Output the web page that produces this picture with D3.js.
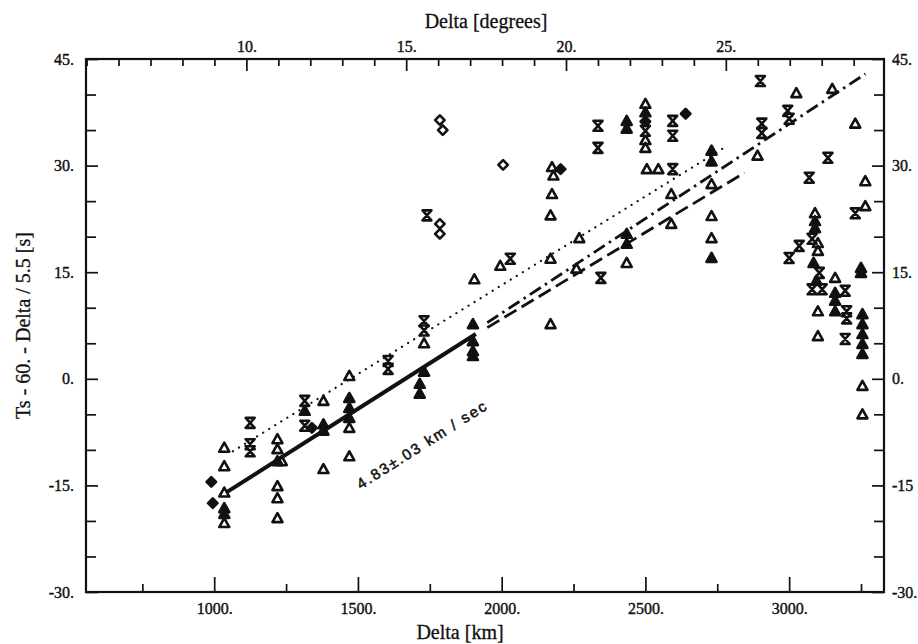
<!DOCTYPE html>
<html>
<head>
<meta charset="utf-8">
<script src="https://cdn.jsdelivr.net/npm/d3@7"></script>
<style>
    body { margin: 0; background: #fff; }
    svg text { font-family: 'Liberation Serif', 'Times New Roman', serif; fill: #111; }
</style>
</head>
<body>
<div id="chart"></div>
<script>
const KM_PER_DEGREE = 111.19

// axis ticks
const kmMajorTicks = [1000, 1500, 2000, 2500, 3000]
const kmMinorTicks = [750, 1250, 1750, 2250, 2750, 3250]
const degreeMajorTicks = [10, 15, 20, 25]
const degreeMinorTicks = [5, 6, 7, 8, 9, 11, 12, 13, 14, 16, 17, 18, 19, 21, 22, 23, 24, 26, 27, 28, 29]
const residualMajorTicks = [45, 30, 15, 0, -15, -30]
const residualMinorTicks = [40, 35, 25, 20, 10, 5, -5, -10, -20, -25]
const rightTickLabels = ['45.', '30.', '15.', '0.', '-15', '-30.']

// picks, [delta km, residual s]
const openTriangles = [
    [1035, -9.7], [1035, -12.3], [1035, -16.0], [1035, -20.3],
    [1220, -8.5], [1220, -9.9], [1235, -11.6], [1220, -15.1], [1220, -16.8], [1220, -19.6],
    [1380, -3.1], [1380, -12.7], [1470, 0.4], [1470, -6.9], [1470, -10.9],
    [1730, 5.0], [1905, 14.0], [1995, 15.9],
    [2170, 16.9], [2170, 7.7], [2170, 23.0], [2175, 26.0], [2175, 29.8], [2180, 28.6],
    [2270, 19.8], [2260, 15.5], [2435, 16.3],
    [2500, 38.7], [2500, 33.6], [2500, 32.5], [2505, 29.5], [2545, 29.5],
    [2590, 26.0], [2590, 21.8], [2730, 27.4], [2730, 22.9], [2730, 19.8],
    [2890, 31.4], [3025, 40.2], [3150, 40.8], [3230, 35.9], [3265, 27.8], [3265, 24.3],
    [3090, 23.3], [3100, 19.1], [3100, 18.0], [3160, 14.2], [3100, 9.5], [3100, 6.0],
    [3255, -1.0], [3255, -5.0],
]
const filledTriangles = [
    [1035, -18.2], [1035, -19.0], [1220, -11.6], [1315, -4.5], [1380, -6.4], [1380, -7.3],
    [1470, -2.7], [1470, -4.1], [1470, -5.5], [1715, -0.7], [1715, -2.1], [1730, 1.0],
    [1900, 7.7], [1900, 5.3], [1900, 3.9], [1900, 3.2],
    [2435, 20.4], [2435, 19.0], [2435, 36.3], [2435, 35.2], [2500, 37.5],
    [2730, 32.1], [2730, 30.6], [2730, 17.0],
    [3090, 22.2], [3090, 21.2], [3085, 16.3], [3095, 13.8], [3160, 12.1], [3160, 11.0], [3160, 9.5],
    [3250, 15.6], [3250, 14.9], [3255, 9.1], [3255, 7.7], [3255, 6.3], [3255, 4.9], [3255, 3.5],
]
const hourglasses = [
    [1125, -6.2], [1125, -9.2], [1125, -10.2], [1315, -3.1], [1315, -6.6],
    [1605, 2.5], [1605, 1.4], [1740, 23.0], [1730, 8.1], [1730, 6.8],
    [2030, 16.9], [2335, 35.6], [2335, 32.5], [2345, 14.2],
    [2500, 34.9], [2595, 36.3], [2595, 34.2], [2595, 29.5],
    [2900, 41.9], [2905, 35.9], [2905, 34.6], [2995, 37.7], [3000, 36.6],
    [3135, 31.1], [3070, 28.3], [3230, 23.3], [3080, 19.7], [3035, 18.7], [3000, 17.0],
    [3105, 14.9], [3080, 12.6], [3115, 12.6], [3195, 12.4], [3200, 9.5], [3200, 8.5], [3195, 5.6],
]
const openDiamonds = [[1785, 21.8], [1785, 20.4], [1785, 36.4], [1795, 35.0], [2005, 30.1]]
const filledDiamonds = [[990, -14.5], [995, -17.5], [1340, -6.9], [2205, 29.5], [2500, 36.2], [2640, 37.3]]

// fitted lines, end points
const fitLine = [[1030, -16.3], [1910, 6.3]]
const dashDotLine = [[1950, 7.9], [3265, 42.9]]
const dashedLine = [[1950, 7.2], [2845, 29.0]]
const dottedLine = [[1065, -10.2], [2785, 32.8]]
const fitLabel = { km: 1510, t: -15.6, text: '4.83±.03  km / sec' }

const width = 918
const height = 644
const frame = { left: 86, right: 884, top: 59, bottom: 592 }

const x = d3.scaleLinear().domain([554, 3330]).range([frame.left, frame.right])
const xDeg = d3.scaleLinear().domain([554 / KM_PER_DEGREE, 3330 / KM_PER_DEGREE]).range([frame.left, frame.right])
const y = d3.scaleLinear().domain([-30, 45]).range([frame.bottom, frame.top])

const svg = d3.select('#chart').append('svg')
    .attr('width', width)
    .attr('height', height)

function _styleAxis(g, fontSize) {
    g.attr('font-family', null).attr('font-size', null)
    g.select('.domain').remove()
    g.selectAll('line').attr('stroke', '#111').attr('stroke-width', 1.7)
    g.selectAll('text')
        .style('font-size', fontSize + 'px')
        .attr('stroke', '#111')
        .attr('stroke-width', 0.4)
}

function _addAxis(axis, transform) {
    return svg.append('g').attr('transform', transform).call(axis).call(g => _styleAxis(g, 16))
}

// bottom, km
_addAxis(d3.axisBottom(x).tickValues(kmMajorTicks).tickSize(-15).tickPadding(11).tickFormat(d => d + '.'),
    `translate(0,${frame.bottom})`)
_addAxis(d3.axisBottom(x).tickValues(kmMinorTicks).tickSize(-8).tickFormat(''), `translate(0,${frame.bottom})`)

// top, degrees
_addAxis(d3.axisTop(xDeg).tickValues(degreeMajorTicks).tickSize(-12).tickPadding(7).tickFormat(d => d + '.'),
    `translate(0,${frame.top})`)
_addAxis(d3.axisTop(xDeg).tickValues(degreeMinorTicks).tickSize(-7).tickFormat(''), `translate(0,${frame.top})`)

// left and right, residual
_addAxis(d3.axisLeft(y).tickValues(residualMajorTicks).tickSize(-12).tickPadding(12).tickFormat(d => d + '.'),
    `translate(${frame.left},0)`)
_addAxis(d3.axisLeft(y).tickValues(residualMinorTicks).tickSize(-10).tickFormat(''), `translate(${frame.left},0)`)
_addAxis(d3.axisRight(y).tickValues(residualMajorTicks).tickSize(-12).tickPadding(8).tickFormat((d, i) => rightTickLabels[i]),
    `translate(${frame.right},0)`)
_addAxis(d3.axisRight(y).tickValues(residualMinorTicks).tickSize(-10).tickFormat(''), `translate(${frame.right},0)`)

svg.append('rect')
    .attr('x', frame.left)
    .attr('y', frame.top)
    .attr('width', frame.right - frame.left)
    .attr('height', frame.bottom - frame.top)
    .attr('fill', 'none')
    .attr('stroke', '#111')
    .attr('stroke-width', 2.2)

// titles
function _addTitle(transform, text) {
    svg.append('text')
        .attr('transform', transform)
        .attr('text-anchor', 'middle')
        .attr('stroke', '#111')
        .attr('stroke-width', 0.3)
        .style('font-size', '20px')
        .text(text)
}
_addTitle('translate(486,28)', 'Delta [degrees]')
_addTitle('translate(460,639)', 'Delta [km]')
_addTitle(`translate(30,${(frame.top + frame.bottom) / 2}) rotate(-90)`, 'Ts - 60. - Delta / 5.5 [s]')

// lines
const line = d3.line().x(d => x(d[0])).y(d => y(d[1]))

function _drawLine(points, strokeWidth, dash, cap) {
    svg.append('path')
        .datum(points)
        .attr('d', line)
        .attr('fill', 'none')
        .attr('stroke', '#111')
        .attr('stroke-width', strokeWidth)
        .attr('stroke-linecap', cap)
        .attr('stroke-dasharray', dash)
}

_drawLine(dottedLine, 2.2, '0.1,7', 'round')
_drawLine(dashedLine, 2.8, '14,6', 'butt')
_drawLine(dashDotLine, 2.8, '13,5,2.5,5', 'butt')
_drawLine(fitLine, 4, null, 'butt')

// markers
const symbolTriangle = {
    draw(context, size) {
        const r = Math.sqrt(size) / 2
        context.moveTo(0, -r)
        context.lineTo(r, r * 0.8)
        context.lineTo(-r, r * 0.8)
        context.closePath()
    }
}
const symbolHourglass = {
    draw(context, size) {
        const r = Math.sqrt(size) / 2
        context.moveTo(-r * 0.9, -r)
        context.lineTo(r * 0.9, -r)
        context.lineTo(-r * 0.9, r)
        context.lineTo(r * 0.9, r)
        context.closePath()
    }
}
const symbolRhombus = {
    draw(context, size) {
        const r = Math.sqrt(size) / 2
        context.moveTo(0, -r)
        context.lineTo(r, 0)
        context.lineTo(0, r)
        context.lineTo(-r, 0)
        context.closePath()
    }
}

function _drawMarkers(points, type, size, filled) {
    svg.append('g')
        .selectAll('path')
        .data(points)
        .enter()
            .append('path')
                .attr('transform', d => `translate(${x(d[0])},${y(d[1])})`)
                .attr('d', d3.symbol().type(type).size(size))
                .attr('fill', filled ? '#111' : '#fff')
                .attr('stroke', '#111')
                .attr('stroke-width', 2.6)
                .attr('stroke-linejoin', 'round')
}

_drawMarkers(openTriangles, symbolTriangle, 100, false)
_drawMarkers(hourglasses, symbolHourglass, 100, false)
_drawMarkers(openDiamonds, symbolRhombus, 90, false)
_drawMarkers(filledTriangles, symbolTriangle, 100, true)
_drawMarkers(filledDiamonds, symbolRhombus, 90, true)

// slope label along the fit
const labelAngle = Math.atan2(y(fitLine[1][1]) - y(fitLine[0][1]), x(fitLine[1][0]) - x(fitLine[0][0])) * 180 / Math.PI
svg.append('text')
    .attr('transform', `translate(${x(fitLabel.km)},${y(fitLabel.t)}) rotate(${labelAngle})`)
    .attr('stroke', '#111')
    .attr('stroke-width', 0.5)
    .style('font-family', "'Liberation Sans', Arial, sans-serif")
    .style('font-size', '15px')
    .style('letter-spacing', '2px')
    .text(fitLabel.text)
</script>
</body>
</html>
